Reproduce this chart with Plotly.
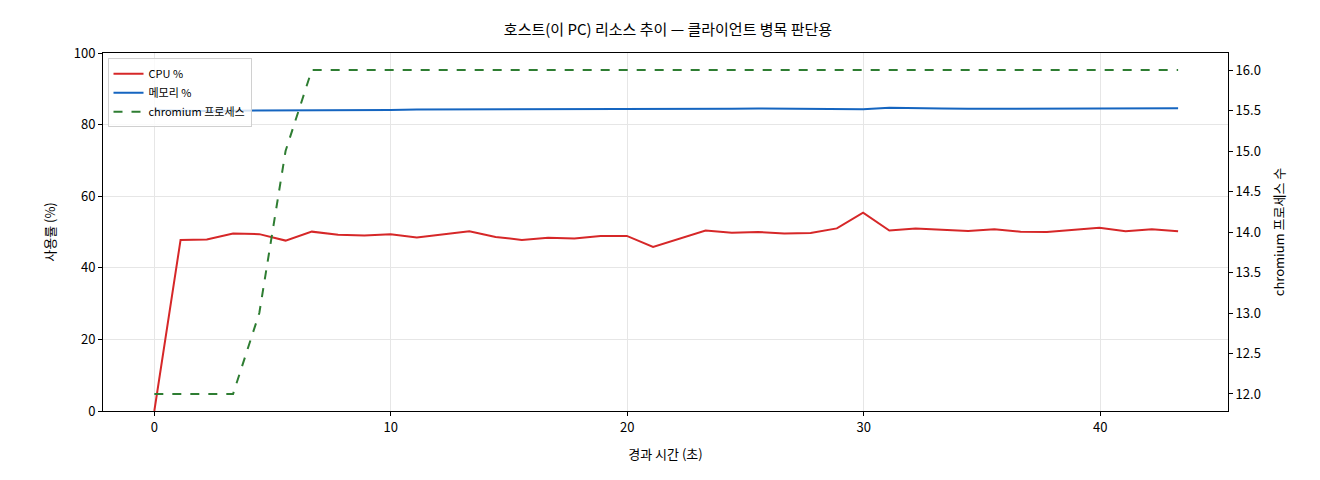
import plotly.graph_objects as go

# 샘플 시간 (초)
t = [round(i * 1.11, 2) for i in range(40)]
cpu = [0, 47.8, 47.9, 49.6, 49.4, 47.6, 50.1, 49.2, 49.0, 49.4,
       48.5, 49.4, 50.2, 48.6, 47.8, 48.4, 48.2, 48.9, 48.9, 45.8,
       48.0, 50.4, 49.8, 50.0, 49.6, 49.7, 51.0, 55.4, 50.4, 51.0,
       50.6, 50.3, 50.8, 50.1, 50.0, 50.6, 51.2, 50.2, 50.8, 50.2]
mem = [84.0, 83.8, 83.8, 83.9, 83.9, 84.0, 84.1, 84.1, 84.1, 84.1,
       84.2, 84.2, 84.2, 84.2, 84.3, 84.3, 84.4, 84.4, 84.4, 84.3,
       84.4, 84.4, 84.4, 84.5, 84.5, 84.5, 84.5, 84.3, 84.7, 84.5,
       84.5, 84.4, 84.4, 84.4, 84.4, 84.5, 84.5, 84.6, 84.6, 84.6]
chromium = [12, 12, 12, 12, 13, 15, 16] + [16] * 33

font = "Noto Sans CJK KR"
fig = go.Figure()
fig.add_trace(go.Scatter(x=t, y=cpu, name="CPU %", mode="lines",
                         line=dict(color="#d62728", width=2)))
fig.add_trace(go.Scatter(x=t, y=mem, name="메모리 %", mode="lines",
                         line=dict(color="#1565c0", width=2)))
fig.add_trace(go.Scatter(x=t, y=chromium, name="chromium 프로세스", mode="lines",
                         yaxis="y2", line=dict(color="#2e7d32", width=2, dash="dash")))

axis_common = dict(showline=True, linecolor="black", ticks="outside",
                   tickcolor="black", ticklen=4, zeroline=False,
                   tickfont=dict(size=13, color="black"))
fig.update_layout(
    width=1320, height=480,
    margin=dict(l=95, r=100, t=45, b=77),
    plot_bgcolor="white", paper_bgcolor="white",
    font=dict(family=font, color="black"),
    title=dict(text="호스트(이 PC) 리소스 추이 — 클라이언트 병목 판단용",
               x=0.5, xanchor="center", y=0.965, font=dict(size=15)),
    xaxis=dict(title=dict(text="경과 시간 (초)", font=dict(size=13)),
               range=[-2.17, 45.4], tickvals=[0, 10, 20, 30, 40],
               showgrid=True, gridcolor="#e6e6e6", mirror=True, **axis_common),
    yaxis=dict(title=dict(text="사용률 (%)", font=dict(size=13)),
               range=[0, 100], dtick=20, showgrid=True, gridcolor="#e6e6e6",
               **axis_common),
    yaxis2=dict(title=dict(text="chromium 프로세스 수", font=dict(size=13)),
                overlaying="y", side="right", range=[11.79, 16.21], dtick=0.5,
                tickformat=".1f", showgrid=False, **axis_common),
    legend=dict(x=0.004, y=0.985, xanchor="left", yanchor="top",
                bgcolor="rgba(255,255,255,0.8)", bordercolor="#d0d0d0", borderwidth=1,
                font=dict(size=11)),
)

fig.write_html("out.html")
